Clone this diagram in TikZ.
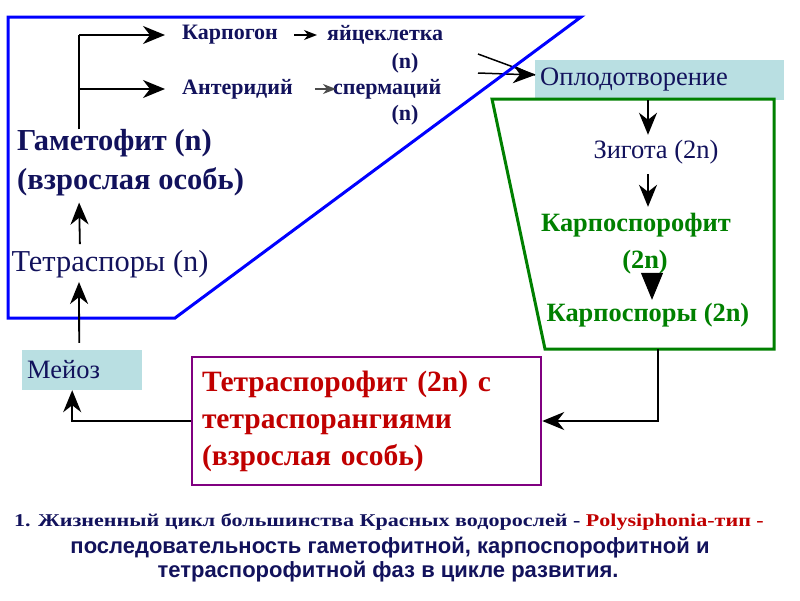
\documentclass[tikz,border=0pt]{standalone}
\usepackage{fontspec}
\setmainfont{Liberation Serif}
\newfontfamily\capsans{Liberation Sans}
\usetikzlibrary{arrows.meta,positioning}
\definecolor{algNavy}{RGB}{18,18,92}
\definecolor{algBlue}{RGB}{0,0,255}
\definecolor{algGreen}{RGB}{0,128,0}
\definecolor{algRed}{RGB}{192,0,0}
\definecolor{algPurple}{RGB}{128,0,128}
\definecolor{algCyan}{RGB}{185,223,226}
\newcommand{\fsz}[1]{\fontsize{#1}{#1}\selectfont}

\begin{document}
\begin{tikzpicture}[x=1pt,y=-1pt,
    arr/.style={black, line width=1.8pt, -{Stealth[length=22pt,width=18pt,inset=7pt]}},
    smallarr/.style={line width=1.3pt, -{Stealth[length=13pt,width=10pt,inset=4pt]}},
    lbl/.style={inner sep=0pt, text=algNavy, font=\bfseries\fsz{22}},
    cyanbox/.style={fill=algCyan, inner sep=5pt, anchor=west, text=algNavy, font=\fsz{26.5}}]
    \useasboundingbox (0,0) rectangle (800,600);

    % fertilisation box (under the green frame)
    \node[cyanbox, minimum width=249pt, minimum height=40pt, text width=239pt, align=left]
        (fert) at (535,80) {Оплодотворение};

    % gametophyte part
    \node[lbl, anchor=west, align=left, font=\bfseries\fontsize{30.5}{39}\selectfont]
        (gam) at (17,163) {Гаметофит (n)\\(взрослая особь)};
    \node[lbl, anchor=west] (karp) at (182,35) {Карпогон};
    \node[lbl, anchor=west] (egg) at (327,35) {яйцеклетка};
    \node[lbl] (eggN) at (405,63) {(n)};
    \node[lbl, anchor=west] (anter) at (182,89) {Антеридий};
    \node[lbl, anchor=west] (sperm) at (333,89) {спермаций};
    \node[lbl] (spermN) at (405,115) {(n)};
    \node[lbl, font=\mdseries\fsz{30.4}] (tetra) at (110,264) {Тетраспоры (n)};
    \coordinate (fork) at (79,35);

    \draw[line width=1.8pt] (fork |- gam.north) -- (fork);
    \draw[arr, shorten >=17pt] (fork) -- (karp.west);
    \draw[arr, shorten >=17pt] (fork |- anter.west) -- (anter.west);
    \draw[smallarr, black, shorten <=16pt, shorten >=10pt] (karp.east) -- (egg.west);
    \draw[smallarr, black!70, shorten <=22pt, shorten >=-3pt] (anter.east) -- (sperm.west);

    % converging arrows
    \coordinate (egg2) at (478,54);
    \coordinate (sperm2) at (478,73);
    \draw[black, line width=1.5pt] (egg2) -- ([yshift=5pt]fert.west);
    \draw[arr, line width=1.5pt] (sperm2) -- ([yshift=5pt]fert.west);

    % blue frame
    \draw[algBlue, line width=3pt, line join=miter] (8,17) -- (581,17) -- (175,318) -- (8,318) -- cycle;

    % carposporophyte part
    \coordinate (axis) at (648,0);
    \node[lbl, font=\mdseries\fsz{26.5}] (zyg) at (656,152) {Зигота (2n)};
    \node[lbl, text=algGreen, font=\bfseries\fsz{26.4}] (carpo) at (636,225) {Карпоспорофит};
    \node[lbl, text=algGreen, font=\bfseries\fsz{26.4}] (carpoN) at (645,262) {(2n)};
    \node[lbl, text=algGreen, font=\bfseries\fsz{26.4}] (spores) at (648,315) {Карпоспоры (2n)};
    \draw[algGreen, line width=3pt] (492,99) -- (774,99) -- (774,349) -- (545,349) -- cycle;
    \draw[arr, shorten >=5pt] (fert.south -| axis) -- (zyg.north -| axis);
    \draw[arr, shorten <=10pt, shorten >=6pt] (zyg.south -| axis) -- (carpo.north -| axis);
    \draw[black, line width=1pt, -{Triangle[length=27pt,width=22pt]}, shorten >=3pt]
        ([xshift=7pt]carpoN.south) -- ([xshift=4pt]spores.north);

    % tetrasporophyte and meiosis
    \coordinate (gbot) at (658,349);
    \node[draw=algPurple, line width=2.5pt, minimum width=349pt, minimum height=128pt,
        inner sep=10pt, text width=329pt, align=left, text=algRed,
        font=\bfseries\fontsize{29.5}{37}\selectfont]
        (tsp) at (366.5,421) {Тетраспорофит (2n) с\\тетраспорангиями\\(взрослая особь)};
    \node[cyanbox, minimum width=120pt, minimum height=40pt, text width=110pt, align=left]
        (meio) at (22,370) {Мейоз};

    \draw[arr] (gbot) |- (tsp.east);
    \draw[arr] (tsp.west) -| ([xshift=-10pt]meio.south);
    \draw[arr, shorten <=7pt, shorten >=4pt] ([xshift=-3pt]meio.north) -- ([xshift=-31pt]tetra.south);
    \draw[arr, shorten <=6pt, shorten >=6pt] ([xshift=-30pt]tetra.north) -- (gam.south -| fork);

    % caption
    \node[inner sep=0pt, text=algNavy, font=\bfseries\fsz{18}] (cap1) at (389,522)
        {\scalebox{1.226}[1]{1. Жизненный цикл большинства Красных водорослей - \textcolor{algRed}{Polysiphonia-тип -}}};
    \node[inner sep=0pt, text=algNavy, font=\capsans\bfseries\fsz{22}] (cap2) at (390,548)
        {последовательность гаметофитной, карпоспорофитной и};
    \node[inner sep=0pt, text=algNavy, font=\capsans\bfseries\fsz{22}] (cap3) at (388,572)
        {тетраспорофитной фаз в цикле развития.};
\end{tikzpicture}
\end{document}
